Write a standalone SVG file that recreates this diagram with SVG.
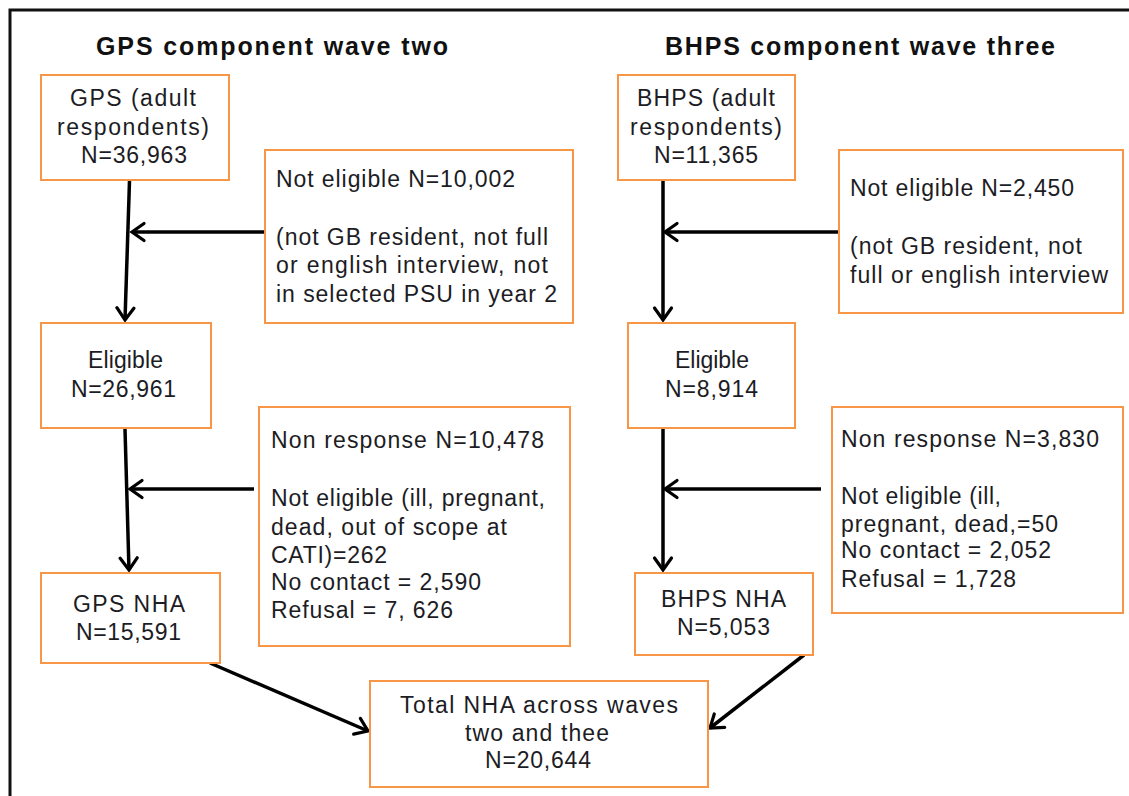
<svg xmlns="http://www.w3.org/2000/svg" width="1129" height="796" viewBox="0 0 1129 796">
  <style>
    .box { fill: #ffffff; stroke: #F79646; stroke-width: 2; }
    .t { font-family: "Liberation Sans", Arial, sans-serif; font-size: 23px; fill: #1c1c24; }
    .title { font-family: "Liberation Sans", Arial, sans-serif; font-size: 25px; font-weight: bold; fill: #111111; }
    .conn { stroke: #000000; stroke-width: 3.5; fill: none; marker-end: url(#arrow); }
    .frame { stroke: #111111; stroke-width: 3; fill: none; }
  </style>
  <defs>
    <marker id="arrow" markerUnits="userSpaceOnUse" viewBox="-16 -11 19 22" markerWidth="19" markerHeight="22" refX="0" refY="0" orient="auto">
      <path d="M-12,-8.5 L0,0 L-12,8.5" fill="none" stroke="#000000" stroke-width="3.2" stroke-linejoin="miter" stroke-linecap="round"/>
    </marker>
  </defs>
  <rect x="0" y="0" width="1129" height="796" fill="#ffffff"/>
  <path class="frame" d="M10,796 L10,10 L1129,10"/>

  <text class="title" x="96" y="55" textLength="352" lengthAdjust="spacing">GPS component wave two</text>
  <text class="title" x="665" y="55" textLength="390" lengthAdjust="spacing">BHPS component wave three</text>

  <g id="connectors">
    <line class="conn" x1="129.5" y1="181" x2="125" y2="320"/>
    <line class="conn" x1="265" y1="232" x2="132" y2="232"/>
    <line class="conn" x1="125" y1="429" x2="129" y2="570"/>
    <line class="conn" x1="254" y1="489" x2="130" y2="489"/>
    <line class="conn" x1="210" y1="663" x2="368" y2="731"/>
    <line class="conn" x1="663" y1="181" x2="663" y2="320"/>
    <line class="conn" x1="839" y1="232" x2="665" y2="232"/>
    <line class="conn" x1="663" y1="429" x2="663" y2="570"/>
    <line class="conn" x1="821" y1="489" x2="665" y2="489"/>
    <line class="conn" x1="804" y1="655" x2="710" y2="728"/>
  </g>

  <g id="gps-adult">
    <rect class="box" x="41" y="75" width="188" height="105"/>
    <text class="t" x="70" y="106" textLength="126" lengthAdjust="spacing">GPS (adult</text>
    <text class="t" x="57" y="135" textLength="152" lengthAdjust="spacing">respondents)</text>
    <text class="t" x="81" y="163" textLength="106" lengthAdjust="spacing">N=36,963</text>
  </g>

  <g id="gps-not-eligible">
    <rect class="box" x="265" y="150" width="308" height="173"/>
    <text class="t" x="276" y="187" textLength="239" lengthAdjust="spacing">Not eligible N=10,002</text>
    <text class="t" x="276" y="245" textLength="272" lengthAdjust="spacing">(not GB resident, not full</text>
    <text class="t" x="276" y="273" textLength="272" lengthAdjust="spacing">or english interview, not</text>
    <text class="t" x="276" y="302" textLength="281" lengthAdjust="spacing">in selected PSU in year 2</text>
  </g>

  <g id="gps-eligible">
    <rect class="box" x="41" y="323" width="170" height="105"/>
    <text class="t" x="88" y="368" textLength="75" lengthAdjust="spacing">Eligible</text>
    <text class="t" x="71" y="397" textLength="105" lengthAdjust="spacing">N=26,961</text>
  </g>

  <g id="gps-non-response">
    <rect class="box" x="259" y="407" width="311" height="239"/>
    <text class="t" x="271" y="448" textLength="273" lengthAdjust="spacing">Non response N=10,478</text>
    <text class="t" x="271" y="506" textLength="274" lengthAdjust="spacing">Not eligible (ill, pregnant,</text>
    <text class="t" x="271" y="535" textLength="236" lengthAdjust="spacing">dead, out of scope at</text>
    <text class="t" x="271" y="563" textLength="116" lengthAdjust="spacing">CATI)=262</text>
    <text class="t" x="271" y="590" textLength="210" lengthAdjust="spacing">No contact = 2,590</text>
    <text class="t" x="271" y="618" textLength="182" lengthAdjust="spacing">Refusal = 7, 626</text>
  </g>

  <g id="gps-nha">
    <rect class="box" x="41" y="573" width="179" height="90"/>
    <text class="t" x="73" y="612" textLength="112" lengthAdjust="spacing">GPS NHA</text>
    <text class="t" x="76" y="640" textLength="105" lengthAdjust="spacing">N=15,591</text>
  </g>

  <g id="bhps-adult">
    <rect class="box" x="618" y="75" width="177" height="105"/>
    <text class="t" x="637" y="106" textLength="138" lengthAdjust="spacing">BHPS (adult</text>
    <text class="t" x="630" y="135" textLength="152" lengthAdjust="spacing">respondents)</text>
    <text class="t" x="654" y="163" textLength="104" lengthAdjust="spacing">N=11,365</text>
  </g>

  <g id="bhps-not-eligible">
    <rect class="box" x="839" y="150" width="284" height="163"/>
    <text class="t" x="850" y="196" textLength="224" lengthAdjust="spacing">Not eligible N=2,450</text>
    <text class="t" x="850" y="254" textLength="232" lengthAdjust="spacing">(not GB resident, not</text>
    <text class="t" x="850" y="283" textLength="258" lengthAdjust="spacing">full or english interview</text>
  </g>

  <g id="bhps-eligible">
    <rect class="box" x="628" y="323" width="167" height="105"/>
    <text class="t" x="675" y="368" textLength="74" lengthAdjust="spacing">Eligible</text>
    <text class="t" x="665" y="397" textLength="93" lengthAdjust="spacing">N=8,914</text>
  </g>

  <g id="bhps-non-response">
    <rect class="box" x="832" y="407" width="291" height="206"/>
    <text class="t" x="841" y="447" textLength="258" lengthAdjust="spacing">Non response N=3,830</text>
    <text class="t" x="841" y="504" textLength="160" lengthAdjust="spacing">Not eligible (ill,</text>
    <text class="t" x="841" y="532" textLength="217" lengthAdjust="spacing">pregnant, dead,=50</text>
    <text class="t" x="841" y="558" textLength="210" lengthAdjust="spacing">No contact = 2,052</text>
    <text class="t" x="841" y="587" textLength="175" lengthAdjust="spacing">Refusal = 1,728</text>
  </g>

  <g id="bhps-nha">
    <rect class="box" x="635" y="573" width="178" height="82"/>
    <text class="t" x="661" y="607" textLength="125" lengthAdjust="spacing">BHPS NHA</text>
    <text class="t" x="677" y="635" textLength="93" lengthAdjust="spacing">N=5,053</text>
  </g>

  <g id="total-nha">
    <rect class="box" x="370" y="681" width="338" height="106"/>
    <text class="t" x="400" y="713" textLength="278" lengthAdjust="spacing">Total NHA across waves</text>
    <text class="t" x="465" y="741" textLength="144" lengthAdjust="spacing">two and thee</text>
    <text class="t" x="485" y="768" textLength="106" lengthAdjust="spacing">N=20,644</text>
  </g>
</svg>
